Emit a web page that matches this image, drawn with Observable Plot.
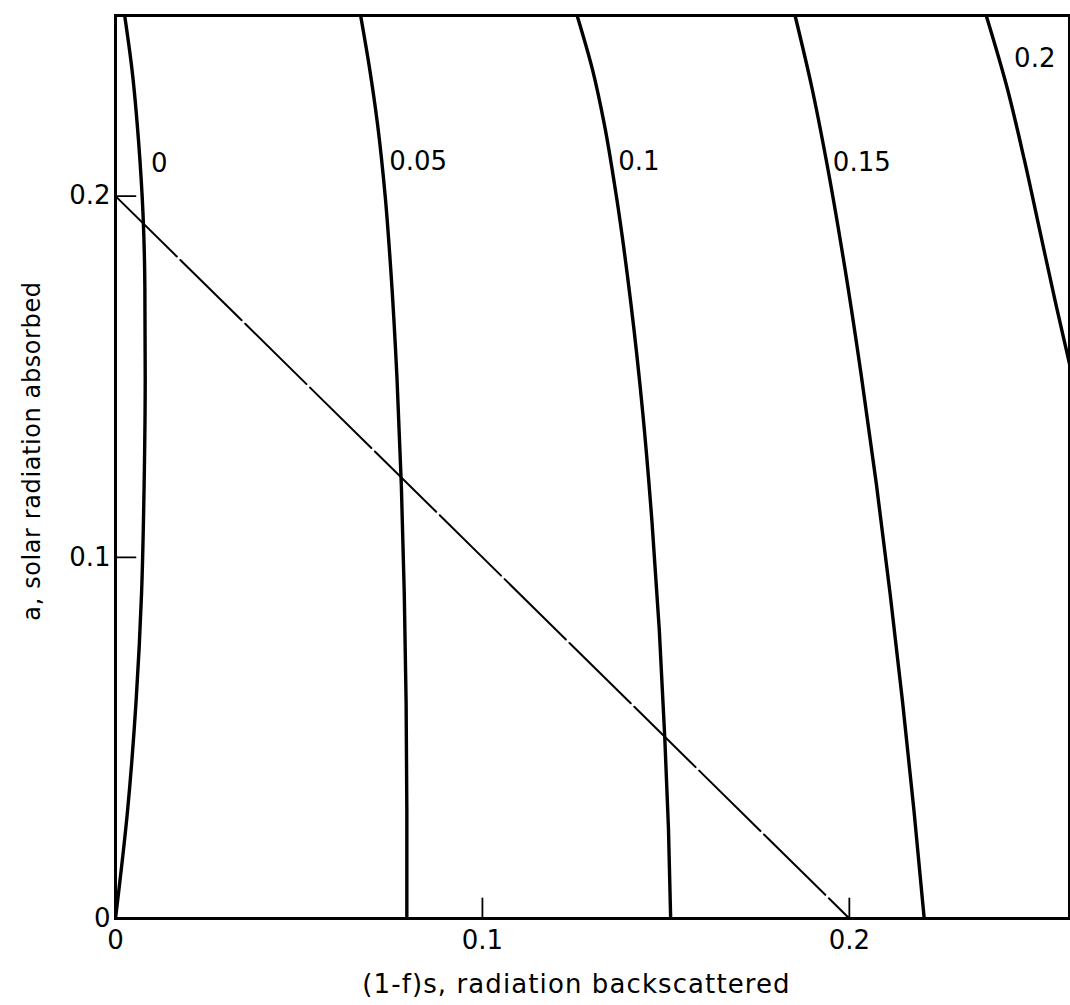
<!DOCTYPE html>
<html><head><meta charset="utf-8">
<script src="https://cdn.jsdelivr.net/npm/d3@7"></script>
<script src="https://cdn.jsdelivr.net/npm/@observablehq/plot@0.6"></script>
<style>html,body{margin:0;padding:0;background:#fff;}</style>
</head><body><div id="chart"></div>
<script>
// Curve names (parameter value of each curve)
const curveNames = ["0", "0.05", "0.1", "0.15", "0.2"];

// Curve "0"
const curve0X = [0, 0.0033, 0.0056, 0.0071, 0.0078, 0.0081, 0.0080, 0.0075, 0.0063, 0.0045, 0.0025];
const curve0Y = [0, 0.030, 0.060, 0.090, 0.120, 0.150, 0.175, 0.195, 0.215, 0.235, 0.250];
// Curve "0.05"
const curve005X = [0.0794, 0.0794, 0.0792, 0.0787, 0.0779, 0.0767, 0.0750, 0.0735, 0.0714, 0.0693, 0.0668];
const curve005Y = [0, 0.030, 0.060, 0.090, 0.120, 0.150, 0.180, 0.200, 0.220, 0.235, 0.250];
// Curve "0.1"
const curve01X = [0.1513, 0.1507, 0.1497, 0.1482, 0.1462, 0.1437, 0.1405, 0.1365, 0.1332, 0.1300, 0.1258];
const curve01Y = [0, 0.025, 0.050, 0.080, 0.110, 0.140, 0.170, 0.200, 0.220, 0.235, 0.250];
// Curve "0.15"
const curve015X = [0.2204, 0.2176, 0.2145, 0.2111, 0.2074, 0.2033, 0.1988, 0.1937, 0.1898, 0.1852];
const curve015Y = [0, 0.030, 0.060, 0.090, 0.120, 0.150, 0.180, 0.210, 0.230, 0.250];
// Curve "0.2" (leaves the frame on the right)
const curve02X = [0.2608, 0.2563, 0.2520, 0.2477, 0.2430, 0.2373];
const curve02Y = [0.150, 0.170, 0.190, 0.210, 0.230, 0.250];

// Straight line a + (1-f)s = 0.2
const diagX = [0, 0.2];
const diagY = [0.2, 0];

// Curve label anchors (data units)
const labelX = [0.0097, 0.0746, 0.1370, 0.1955, 0.2449];
const labelY = [0.209, 0.2096, 0.2096, 0.2092, 0.2381];

// Axis ticks
const xTicks = [0, 0.1, 0.2];
const yTicks = [0, 0.1, 0.2];
const xDomain = [0, 0.26];
const yDomain = [0, 0.25];

const xTitle = "(1-f)s, radiation backscattered";
const yTitle = "a, solar radiation absorbed";

// Build tables
const curveXs = [curve0X, curve005X, curve01X, curve015X, curve02X];
const curveYs = [curve0Y, curve005Y, curve01Y, curve015Y, curve02Y];
const curveRows = curveNames.flatMap((name, k) => curveXs[k].map((x, i) => ({name, x, y: curveYs[k][i]})));
const diagRows = diagX.map((x, i) => ({x, y: diagY[i]}));
const labelRows = curveNames.map((name, i) => ({name, x: labelX[i], y: labelY[i]}));
const innerTicks = (t) => t.filter(d => d !== 0);

const tickShape = {draw(context, l) { context.moveTo(0, 0); context.lineTo(0, -l); }};

const chart = Plot.plot({
  width: 1070,
  height: 1005,
  marginTop: 15,
  marginLeft: 115,
  marginRight: 1,
  marginBottom: 87,
  style: {fontFamily: "'DejaVu Sans', sans-serif", fontSize: "26px", background: "white", color: "black"},
  x: {domain: xDomain, axis: null},
  y: {domain: yDomain, axis: null},
  marks: [
    Plot.line(diagRows, {x: "x", y: "y", stroke: "black", strokeWidth: 2, strokeDasharray: "86,5"}),
    Plot.line(curveRows, {x: "x", y: "y", z: "name", stroke: "black", strokeWidth: 3.4, curve: "monotone-y", clip: true}),
    Plot.frame({stroke: "black", strokeWidth: 3}),
    Plot.vector(innerTicks(xTicks), {x: d => d, frameAnchor: "bottom", length: 20, rotate: 0, anchor: "start", shape: tickShape, stroke: "black", strokeWidth: 1.8}),
    Plot.vector(innerTicks(yTicks), {y: d => d, frameAnchor: "left", length: 20, rotate: 90, anchor: "start", shape: tickShape, stroke: "black", strokeWidth: 1.8}),
    Plot.axisX({ticks: xTicks, tickSize: 0, tickPadding: 12, fontSize: 26, label: null, tickFormat: d => String(d)}),
    Plot.axisY({ticks: yTicks, tickSize: 0, tickPadding: 5, fontSize: 26, label: null, tickFormat: d => String(d)}),
    Plot.text(labelRows, {x: "x", y: "y", text: "name", textAnchor: "start", lineAnchor: "middle", fontSize: 26}),
    Plot.text([xTitle], {text: d => d, frameAnchor: "bottom", dy: 66, dx: -16, lineAnchor: "middle", textAnchor: "middle", fontSize: 26}),
    Plot.text([yTitle], {text: d => d, frameAnchor: "left", dx: -83, dy: -16, rotate: -90, lineAnchor: "middle", textAnchor: "middle", fontSize: 24})
  ]
});
// letter spacing of the axis titles
d3.select(chart).selectAll("text").each(function () {
  const t = this.textContent;
  if (t === xTitle) this.setAttribute("letter-spacing", "1.1px");
  if (t === yTitle) this.setAttribute("letter-spacing", "0.6px");
});
document.getElementById("chart").appendChild(chart);
</script>
</body></html>
